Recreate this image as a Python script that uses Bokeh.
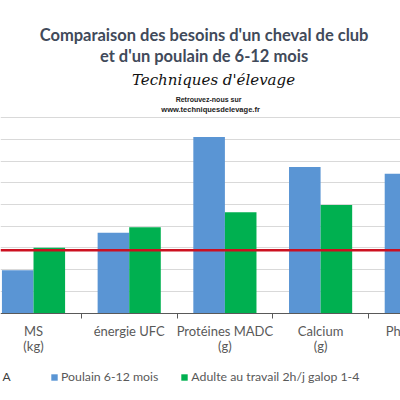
from bokeh.plotting import figure
from bokeh.models import (ColumnDataSource, Range1d, FixedTicker, Span, Label,
                          Legend, LegendItem)
from bokeh.core.properties import value
from bokeh.transform import dodge
from bokeh.embed import file_html
from bokeh.resources import INLINE

categories = ["MS\n(kg)", "énergie UFC", "Protéines MADC\n(g)", "Calcium\n(g)", "Phosphore\n(g)"]
poulain = [1.97, 3.70, 8.11, 6.73, 6.42]
adulte = [3.01, 3.95, 4.64, 4.98, 4.30]
reference_line = 2.89
grid_values = [1, 2, 3, 4, 5, 6, 7, 8, 9]
series_names = ["Poulain 6-12 mois", "Adulte au travail 2h/j galop 1-4"]
title_lines = ["Comparaison des besoins d'un cheval de club", "et d'un poulain de 6-12 mois"]

idx = list(range(len(categories)))
src = ColumnDataSource(dict(x=idx, cat=categories, poulain=poulain, adulte=adulte,
                            zero=[0] * len(idx)))

p = figure(frame_width=400, frame_height=400, output_backend="svg", toolbar_location=None,
           x_range=Range1d(-0.345, 3.835), y_range=Range1d(-4.016, 14.384),
           min_border_left=0, min_border_right=0, min_border_top=0,
           min_border_bottom=0)
p.outline_line_color = None
p.background_fill_color = "white"
p.border_fill_color = "white"

BLUE = "#5a95d4"
GREEN = "#00b050"
r1 = p.vbar(x=dodge("x", -0.165, range=p.x_range), top="poulain", width=0.33,
            source=src, fill_color=BLUE, line_color=None)
r2 = p.vbar(x=dodge("x", 0.165, range=p.x_range), top="adulte", width=0.33,
            source=src, fill_color=GREEN, line_color=None)

p.add_layout(Span(location=reference_line, dimension="width", line_color="#cc1020",
                  line_width=2.5))

# grid
p.yaxis.visible = False
p.ygrid.ticker = FixedTicker(ticks=grid_values)
p.ygrid.grid_line_color = "#d9d9d9"
p.xgrid.visible = False

# category axis drawn at y = 0 inside the frame
ax = p.xaxis[0]
ax.fixed_location = 0
ax.ticker = FixedTicker(ticks=idx, minor_ticks=[i + 0.5 for i in idx])
ax.major_tick_out = 0
ax.major_tick_in = 0
ax.minor_tick_out = 5
ax.minor_tick_in = 0
ax.minor_tick_line_color = "#595959"
ax.axis_line_color = "#595959"
ax.axis_line_width = 1
ax.major_label_text_color = None

# category labels
p.text(x="x", y="zero", text="cat", source=src, text_align="center",
       text_baseline="top", y_offset=10, text_font=value("Lato"),
       text_font_size="13px", text_color="#595959", text_line_height=0.92)

# legend
legend = Legend(items=[LegendItem(label=series_names[0], renderers=[r1]),
                       LegendItem(label=series_names[1], renderers=[r2])],
                orientation="horizontal", location=(50, 16),
                label_text_font="Lato", label_text_font_size="12.3px",
                label_text_color="#595959", glyph_width=8, glyph_height=8,
                spacing=22, border_line_color=None, background_fill_alpha=0,
                padding=0, margin=0, label_standoff=3)
p.add_layout(legend, "center")

# title & logo texts
TC = "#414a5a"
p.add_layout(Label(x=1.782, y=12.82, text=title_lines[0], text_align="center",
                   text_baseline="middle", text_font="Lato", text_font_style="bold",
                   text_font_size="16.5px", text_color=TC))
p.add_layout(Label(x=1.782, y=11.81, text=title_lines[1], text_align="center",
                   text_baseline="middle", text_font="Lato", text_font_style="bold",
                   text_font_size="16.5px", text_color=TC))
p.add_layout(Label(x=1.881, y=10.75, text="Techniques d'élevage", text_align="center",
                   text_baseline="middle", text_font="DejaVu Serif",
                   text_font_style="italic", text_font_size="15px", text_color="#111111"))
p.add_layout(Label(x=1.829, y=9.83, text="Retrouvez-nous sur", text_align="center",
                   text_baseline="middle", text_font="Liberation Sans",
                   text_font_style="bold", text_font_size="7px", text_color="#222222"))
p.add_layout(Label(x=1.85, y=9.39, text="www.techniquesdelevage.fr", text_align="center",
                   text_baseline="middle", text_font="Liberation Sans",
                   text_font_style="bold", text_font_size="7.5px", text_color="#222222"))
p.add_layout(Label(x=-0.324, y=-2.91, text="A", text_baseline="middle",
                   text_font="Lato", text_font_size="12px", text_color="#404040"))

open("out.html", "w").write(file_html(p, INLINE))
